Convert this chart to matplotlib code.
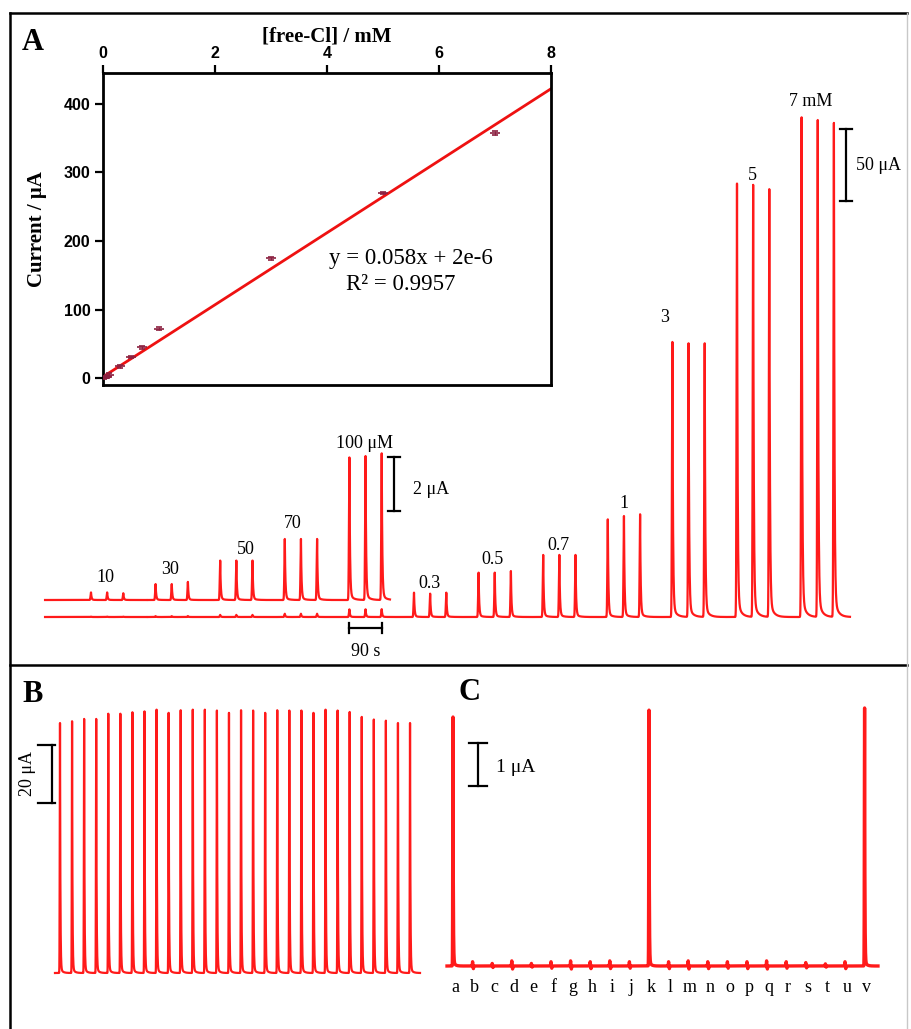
import numpy as np
import matplotlib
matplotlib.use('Agg')
import matplotlib.pyplot as plt

W, H = 912, 1029
RED = '#ff1a1a'
SERIF = 'Liberation Serif'
SANS = 'Liberation Sans'

# ---- panel A: three injections per concentration, peak current in uA
conc_labels = ['10', '30', '50', '70', '100 \u03bcM',
               '0.3', '0.5', '0.7', '1', '3', '5', '7 mM']
peaks_uA = [
    [0.28, 0.28, 0.25],
    [0.59, 0.59, 0.67],
    [1.46, 1.46, 1.46],
    [2.26, 2.26, 2.26],
    [5.28, 5.33, 5.43],
    [16.9, 16.2, 16.9],
    [30.8, 30.8, 31.9],
    [43.1, 43.1, 43.1],
    [67.8, 70.1, 71.3],
    [191, 190, 190],
    [301, 300, 297],
    [347, 345, 343],
]

# ---- inset: calibration
cal_conc = [0.01, 0.03, 0.05, 0.07, 0.1, 0.3, 0.5, 0.7, 1, 3, 5, 7]
cal_current = [0.3, 0.6, 1.5, 2.3, 5.3, 17, 31, 45, 72, 175, 270, 358]
cal_err = [1, 1, 1, 1, 1.5, 1.5, 2, 2, 2, 2, 2, 3]
fit_slope = 52.5
fit_intercept = 2.0

# ---- panel B: 30 repeated injections (uA)
b_heights = [86.2, 86.8, 87.6, 87.6, 89.4, 89.4, 89.9, 90.2, 90.8, 89.7,
             90.6, 90.8, 90.8, 90.5, 89.7, 90.6, 90.5, 89.7, 90.6, 90.5,
             90.5, 89.7, 90.8, 90.5, 90.0, 88.3, 87.4, 87.0, 86.2, 86.2]

# ---- panel C: interference, letters a..v (uA)
c_letters = list('abcdefghijklmnopqrstuv')
c_heights = [5.79, 0.10, 0.06, 0.12, 0.06, 0.10, 0.12, 0.10, 0.12, 0.10, 5.95,
             0.10, 0.12, 0.10, 0.10, 0.10, 0.12, 0.10, 0.08, 0.05, 0.10, 6.0]
c_dips = [0.0, 0.07, 0.04, 0.08, 0.03, 0.06, 0.08, 0.07, 0.07, 0.06, 0.0,
          0.07, 0.08, 0.07, 0.06, 0.07, 0.08, 0.06, 0.05, 0.03, 0.07, 0.0]


def px_axes(fig, l, t, r, b):
    return fig.add_axes([l / W, 1 - b / H, (r - l) / W, (b - t) / H])


def peak(t, t0, h, rise, tau, slow=0.03):
    y = np.where(t < t0, np.exp(-0.5 * ((t - t0) / rise) ** 2),
                 (1 - slow) * np.exp(-(t - t0) / tau) + slow * np.exp(-(t - t0) / (tau * 6)))
    return h * y


def ibar(ax, x, y0, y1, hw):
    ax.plot([x, x], [y0, y1], color='black', lw=1.6)
    ax.plot([x - hw, x + hw], [y0, y0], color='black', lw=1.6)
    ax.plot([x - hw, x + hw], [y1, y1], color='black', lw=1.6)


fig = plt.figure(figsize=(W / 100, H / 100), dpi=100)

# frame
ax0 = fig.add_axes([0, 0, 1, 1])
ax0.set_xlim(0, W)
ax0.set_ylim(H, 0)
ax0.axis('off')
ax0.plot([10, 907], [13, 13], color='black', lw=1.8)
ax0.plot([10, 10], [13, H], color='black', lw=1.8)
ax0.plot([10, 907], [665, 665], color='black', lw=1.8)
ax0.plot([907, 907], [13, H], color='#c8c8c8', lw=1.0)
for lbl, x, y in [('A', 33, 43), ('B', 33, 695), ('C', 470, 693)]:
    ax0.text(x, y, lbl, family=SERIF, fontweight='bold', fontsize=22,
             ha='center', va='center')

# ---- panel A traces (x in s, y in uA)
t_first, dt, dgroup = 130.0, 45.0, 180.0
s_per_px = dgroup / 64.6


def tA(px):
    return t_first + (px - 91) * s_per_px


def yA(px):
    return (617 - px) / 1.44


axA = px_axes(fig, 40, 95, 905, 665)
axA.set_xlim(tA(40), tA(905))
axA.set_ylim(yA(665), yA(95))
axA.axis('off')
axA.patch.set_alpha(0)

t = np.arange(0, tA(850), 0.25)
t = t[t >= tA(45)]
rec = np.zeros_like(t)
for g, hs in enumerate(peaks_uA):
    for j, h in enumerate(hs):
        rec += peak(t, t_first + g * dgroup + j * dt, h, 1.2, 1.6, 0.04)
rec[np.abs(t - tA(147)) < 2.5] = np.nan

axA.plot(t, rec, color=RED, lw=1.6)
up_gain = 27 / 1.44
up_off = 17 / 1.44
m = t <= tA(390)
axA.plot(t[m], up_off + up_gain * rec[m], color=RED, lw=1.6)

label_px = [(105, 578), (170, 569), (246, 549), (293, 524), (365, 443), (430, 584),
            (493, 560), (558, 545), (624, 504), (665, 318), (752, 175), (811, 101)]
for lbl, (x, y) in zip(conc_labels, label_px):
    axA.text(tA(x), yA(y), lbl, family=SERIF, fontsize=13, ha='center', va='center')

ibar(axA, tA(394), yA(511), yA(457), 17)
axA.text(tA(413), yA(490), '2 \u03bcA', family=SERIF, fontsize=13, va='center')
ibar(axA, tA(846), yA(201), yA(129), 17)
axA.text(tA(856), yA(165), '50 \u03bcA', family=SERIF, fontsize=13, va='center')
t90 = t_first + 4 * dgroup
axA.plot([t90, t90 + 2 * dt], [yA(628)] * 2, color='black', lw=1.6)
for xx in (t90, t90 + 2 * dt):
    axA.plot([xx, xx], [yA(633), yA(623)], color='black', lw=1.6)
axA.text(t90 + dt, yA(652), '90 s', family=SERIF, fontsize=13, ha='center', va='center')

# ---- inset calibration
axI = px_axes(fig, 103, 73, 551, 385)
axI.set_facecolor('white')
xf = np.array([0, 8])
axI.plot(xf, fit_slope * xf + fit_intercept, color='#ee1111', lw=2)
axI.errorbar(cal_conc, cal_current, yerr=cal_err, fmt='_', color='#8b2040',
             ms=7, mew=1.2, ecolor='#8b2040', elinewidth=0.8, capsize=2.5, zorder=3)
axI.set_xlim(0, 8)
axI.set_ylim(-10, 445)
axI.set_xticks([0, 2, 4, 6, 8])
axI.set_yticks([0, 100, 200, 300, 400])
axI.xaxis.tick_top()
axI.xaxis.set_label_position('top')
axI.tick_params(direction='out', length=6, width=1.6, labelsize=11.5, pad=3)
for s in axI.spines.values():
    s.set_linewidth(2)
plt.setp(axI.get_xticklabels() + axI.get_yticklabels(), family=SANS, fontweight='bold')
axI.set_xlabel('[free-Cl] / mM', family=SERIF, fontweight='bold', fontsize=15, labelpad=3)
axI.set_ylabel('Current / \u03bcA', family=SERIF, fontweight='bold', fontsize=15, labelpad=12)
axI.text(0.687, 0.405, 'y = 0.058x + 2e-6', transform=axI.transAxes, family=SERIF,
         fontsize=16.5, ha='center', va='center')
axI.text(0.665, 0.322, 'R\u00b2 = 0.9957', transform=axI.transAxes, family=SERIF,
         fontsize=16.5, ha='center', va='center')

# ---- panel B (x in injection index, y in uA)
bsc = 12.07


def xB(px):
    return (px - 60) / bsc


def yB(px):
    return (973 - px) / 2.9


axB = px_axes(fig, 20, 690, 440, 1020)
axB.set_xlim(xB(20), xB(440))
axB.set_ylim(yB(1020), yB(690))
axB.axis('off')
axB.patch.set_alpha(0)
xb = np.arange(-1, 31, 0.002)
xb = xb[(xb >= xB(55)) & (xb <= xB(420))]
yb = np.zeros_like(xb)
for k, h in enumerate(b_heights):
    yb += peak(xb, k, h, 0.02, 0.03, 0.02)
axB.plot(xb, yb, color=RED, lw=1.6)
axB.plot([xB(52), xB(52)], [yB(803), yB(745)], color='black', lw=1.6)
for yy in (803, 745):
    axB.plot([xB(38), xB(55)], [yB(yy)] * 2, color='black', lw=1.6)
axB.text(xB(28), yB(774), '20 \u03bcA', family=SERIF, fontsize=13, rotation=90,
         ha='center', va='center')

# ---- panel C (x in injection index, y in uA)
csc = 19.6


def xC(px):
    return (px - 453) / csc


def yC(px):
    return (966 - px) / 43


axC = px_axes(fig, 440, 690, 905, 1020)
axC.set_xlim(xC(440), xC(905))
axC.set_ylim(yC(1020), yC(690))
axC.axis('off')
axC.patch.set_alpha(0)
xc = np.arange(-1, 23, 0.002)
xc = xc[(xc >= xC(447)) & (xc <= xC(878))]
yc = np.zeros_like(xc)
for i, (h, d) in enumerate(zip(c_heights, c_dips)):
    yc += peak(xc, i, h, 0.012, 0.015, 0.02)
    yc -= peak(xc, i + 0.04, d, 0.012, 0.015, 0.0)
axC.plot(xc, yc, color=RED, lw=2.4)
ibar(axC, xC(478), yC(786), yC(743), 9 / csc)
axC.text(xC(496), yC(767), '1 \u03bcA', family=SERIF, fontsize=14, va='center')
for i, lbl in enumerate(c_letters):
    axC.text(i + 0.1, yC(987), lbl, family=SERIF, fontsize=13, ha='center', va='center')

fig.savefig('out.png', dpi=100)
